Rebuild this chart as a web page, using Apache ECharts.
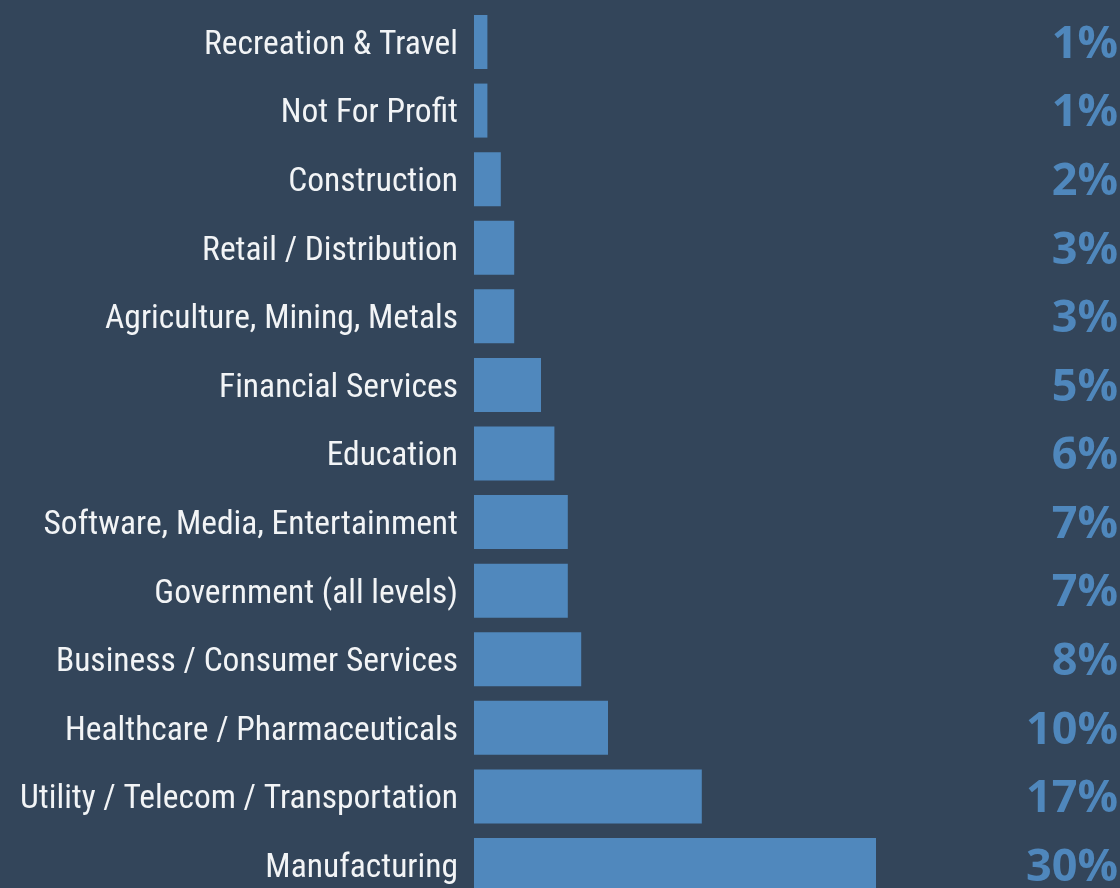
<!DOCTYPE html>
<html>
<head>
<meta charset="utf-8">
<script src="https://cdn.jsdelivr.net/npm/echarts@6/dist/echarts.min.js"></script>
<style>
  html, body { margin: 0; padding: 0; background: #33455a; }
  #chart { width: 1120px; height: 888px; }
</style>
</head>
<body>
<div id="chart"></div>
<script>
// industries, top to bottom
var categories = [
  'Recreation & Travel', 'Not For Profit', 'Construction', 'Retail / Distribution',
  'Agriculture, Mining, Metals', 'Financial Services', 'Education',
  'Software, Media, Entertainment', 'Government (all levels)',
  'Business / Consumer Services', 'Healthcare / Pharmaceuticals',
  'Utility / Telecom / Transportation', 'Manufacturing'
];
var values = [1, 1, 2, 3, 3, 5, 6, 7, 7, 8, 10, 17, 30];
var pctLabels = ['1%', '1%', '2%', '3%', '3%', '5%', '6%', '7%', '7%', '8%', '10%', '17%', '30%'];

var myChart = echarts.init(document.getElementById('chart'));
myChart.setOption({
  backgroundColor: '#33455a',
  animation: false,
  grid: {
    left: 474,
    top: 7.7,
    width: 402,
    height: 891.6,
    outerBoundsMode: 'none',
    containLabel: false
  },
  xAxis: {
    type: 'value',
    min: 0,
    max: 30,
    show: false
  },
  yAxis: [
    {
      type: 'category',
      inverse: true,
      data: categories,
      axisLine: { show: false },
      axisTick: { show: false },
      axisLabel: {
        margin: 16,
        formatter: function (v) { return '{t|' + v + '}'; },
        rich: {
          t: {
            color: '#f2f4f6',
            fontFamily: '"Roboto Condensed", "DejaVu Sans Condensed", sans-serif',
            fontSize: 33.5,
            padding: [7, 0, 0, 0]
          }
        }
      }
    },
    {
      type: 'category',
      inverse: true,
      position: 'right',
      data: pctLabels,
      axisLine: { show: false },
      axisTick: { show: false },
      axisLabel: {
        align: 'right',
        margin: 242,
        formatter: function (v) { return '{p|' + v + '}'; },
        rich: {
          p: {
            color: '#4f87bc',
            fontFamily: '"Open Sans", "Liberation Sans", sans-serif',
            fontWeight: 'bold',
            fontSize: 45,
            align: 'right',
            padding: [6, 0, 0, 0]
          }
        }
      }
    }
  ],
  series: [
    {
      type: 'bar',
      data: values,
      barWidth: 54,
      itemStyle: { color: '#5088bd' }
    }
  ]
});
</script>
</body>
</html>
